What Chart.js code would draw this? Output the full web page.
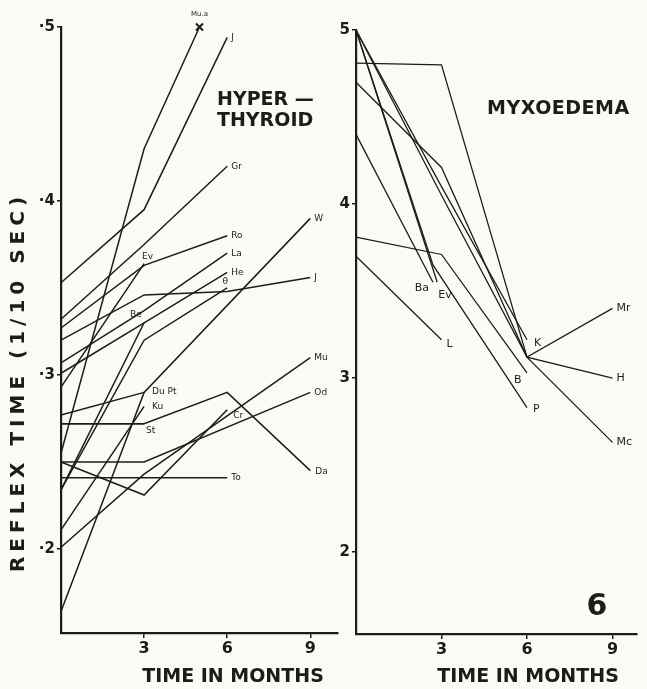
<!DOCTYPE html>
<html>
<head>
<meta charset="utf-8">
<script src="https://cdn.jsdelivr.net/npm/chart.js@4.4.1/dist/chart.umd.min.js"></script>
<style>
  html, body { margin:0; padding:0; background:#fbfbf6; }
  #wrap { position:relative; width:647px; height:689px; overflow:hidden; }
  #wrap canvas { position:absolute; top:0; }
  #c-hyper { left:0; }
  #c-myx { left:320px; }
</style>
</head>
<body>
<div id="wrap">
  <canvas id="c-hyper" width="345" height="689" style="width:345px;height:689px"></canvas>
  <canvas id="c-myx" width="327" height="689" style="width:327px;height:689px"></canvas>
</div>
<script>
// Reflex time (1/10 sec) against time in months, one line per patient

// ---- Hyperthyroid ----
const hyperNomes = ['Mu.a','J','Gr','Ro','La','He','θ','Ev','Be','Du Pt','Ku','St','Cr','To','W','J','Mu','Od','Da'];
const hyperMeses = [
  [0,3,5], [0,3,6], [0,3,6], [0,3,6], [0,3,6], [0,3,6], [0,3,6],
  [0,3], [0,3], [0,3], [0,3], [0,3],
  [0,3,6], [0,6], [0,3,9], [0,3,6,9], [0,3,9], [0,3,9], [0,3,6,9]
];
const hyperValores = [
  [0.255, 0.430, 0.500],        // Mu.a
  [0.353, 0.395, 0.494],        // J
  [0.332, 0.375, 0.420],        // Gr
  [0.327, 0.363, 0.380],        // Ro
  [0.307, 0.337, 0.370],        // La
  [0.301, 0.330, 0.359],        // He
  [0.234, 0.320, 0.350],        // θ
  [0.293, 0.364],               // Ev
  [0.234, 0.330],               // Be
  [0.277, 0.290],               // Du Pt
  [0.211, 0.282],               // Ku
  [0.272, 0.272],               // St
  [0.250, 0.231, 0.280],        // Cr
  [0.241, 0.241],               // To
  [0.164, 0.290, 0.390],        // W
  [0.320, 0.346, 0.348, 0.356], // J
  [0.201, 0.243, 0.310],        // Mu
  [0.250, 0.250, 0.290],        // Od
  [0.272, 0.272, 0.290, 0.245]  // Da
];
const hyperTicksY = [0.2, 0.3, 0.4, 0.5];

// ---- Myxoedema ----
const myxNomes = ['Mr','H','Mc','K','B','P','Ba','Ev','L'];
const myxMeses = [
  [0,3,6,9], [0,3,6,9], [0,3,6,9], [0,3,6], [0,3,6], [0,2.7,6], [0,2.7], [0,2.85], [0,3]
];
const myxValores = [
  [4.81, 4.80, 3.12, 3.40], // Mr
  [4.70, 4.21, 3.12, 3.00], // H
  [5.00, 4.05, 3.12, 2.63], // Mc
  [5.00, 4.10, 3.22],       // K
  [3.81, 3.71, 3.03],       // B
  [5.00, 3.65, 2.83],       // P
  [4.40, 3.55],             // Ba
  [5.00, 3.55],             // Ev
  [3.70, 3.22]              // L
];
const myxTicksY = [2, 3, 4, 5];

const ticksMeses = [3, 6, 9];

const COR = '#1c1c1c';
const FONTE = "'DejaVu Sans', sans-serif";

// posições dos rótulos (desvio em px a partir do ponto)
const hyperRotuloPos = {
  0: { dx:0, dy:-13, align:'center', size:7 },
  6: { idx:2, dx:-2, dy:-6, align:'center' },
  7: { dx:-2, dy:-7 },
  8: { dx:-14, dy:-8 },
  9: { dx:8, dy:-1 },
  10: { dx:8, dy:0 },
  11: { dx:2, dy:7 },
  12: { dx:6, dy:6 },
  18: { dx:5, dy:1 }
};
const myxRotuloPos = {
  3: { dx:7, dy:3 },
  4: { dx:-13, dy:7 },
  5: { dx:6, dy:2 },
  6: { dx:-4, dy:6, align:'right' },
  7: { dx:1, dy:13 },
  8: { dx:5, dy:4 }
};

const rotulosPlugin = {
  id: 'rotulos',
  afterDatasetsDraw(chart, args, opts) {
    const ctx = chart.ctx;
    ctx.save();
    ctx.fillStyle = COR;
    ctx.textBaseline = 'middle';
    opts.nomes.forEach((nome, i) => {
      const meta = chart.getDatasetMeta(i);
      const pos = opts.pos[i] || {};
      const idx = pos.idx ?? meta.data.length - 1;
      const p = meta.data[idx];
      ctx.font = `${pos.size || opts.size}px ${FONTE}`;
      ctx.textAlign = pos.align || 'left';
      ctx.fillText(nome, p.x + (pos.dx ?? 4), p.y + (pos.dy ?? 0));
    });
    // textos do painel
    (opts.textos || []).forEach(t => {
      ctx.save();
      ctx.font = t.font;
      ctx.textAlign = t.align || 'left';
      ctx.textBaseline = 'middle';
      if (t.espaco) ctx.letterSpacing = t.espaco + 'px';
      ctx.translate(t.x, t.y);
      if (t.rot) ctx.rotate(t.rot);
      ctx.fillText(t.txt, 0, 0);
      ctx.restore();
    });
    ctx.restore();
  }
};

function montaDatasets(meses, valores, extra) {
  return valores.map((vals, i) => Object.assign({
    data: vals.map((v, j) => ({ x: meses[i][j], y: v })),
    showLine: true,
    borderColor: COR,
    backgroundColor: COR,
    borderWidth: 1.5,
    pointRadius: 0,
    clip: false,
    tension: 0
  }, extra ? extra(i, vals) : {}));
}

function eixos(cfg) {
  const fTick = { family: FONTE, size: cfg.tickSize, weight: 'bold' };
  return {
    x: {
      type: 'linear', min: 0, max: cfg.xMax,
      afterBuildTicks: s => { s.ticks = ticksMeses.map(v => ({ value: v })); },
      afterFit: s => { s.height = cfg.xAltura; },
      ticks: { font: { family: FONTE, size: 16, weight: 'bold' }, color: COR, padding: 1, maxRotation: 0 },
      grid: { drawOnChartArea: false, drawTicks: true, tickLength: 5, color: COR, lineWidth: 1.5 },
      border: { display: true, color: COR, width: 2.2 }
    },
    y: {
      type: 'linear', min: cfg.yMin, max: cfg.yMax,
      afterBuildTicks: s => { s.ticks = cfg.ticksY.map(v => ({ value: v })); },
      afterFit: s => { s.width = cfg.yLargura; },
      ticks: { font: fTick, color: COR, padding: 2, callback: cfg.fmt },
      grid: { drawOnChartArea: false, drawTicks: true, tickLength: 4, color: COR, lineWidth: 1.5 },
      border: { display: true, color: COR, width: 2.2 }
    }
  };
}

Chart.defaults.animation = false;
Chart.defaults.font.family = FONTE;

new Chart(document.getElementById('c-hyper'), {
  type: 'scatter',
  data: {
    datasets: montaDatasets(hyperMeses, hyperValores, (i, vals) => i === 0 ? {
      pointRadius: vals.map((v, j) => j === vals.length - 1 ? 5 : 0),
      pointStyle: 'crossRot', pointBorderWidth: 2
    } : {})
  },
  options: {
    responsive: false,
    layout: { padding: { top: 27, right: 4, left: 0, bottom: 0 } },
    plugins: {
      legend: { display: false },
      tooltip: { enabled: false },
      rotulos: {
        nomes: hyperNomes, pos: hyperRotuloPos, size: 9,
        textos: [
          { txt: 'HYPER —', x: 217, y: 100, font: `bold 19px ${FONTE}` },
          { txt: 'THYROID', x: 217, y: 121, font: `bold 19px ${FONTE}` },
          { txt: 'REFLEX TIME (1/10 SEC)', x: 19, y: 382, font: `bold 20px ${FONTE}`, align: 'center', rot: -Math.PI / 2, espaco: 5 },
          { txt: 'TIME IN MONTHS', x: 233, y: 677, font: `bold 19px ${FONTE}`, align: 'center' }
        ]
      }
    },
    scales: eixos({
      xMax: 10, xAltura: 56, yMin: 0.1517, yMax: 0.5, yLargura: 61, tickSize: 15,
      ticksY: hyperTicksY, fmt: v => '·' + Math.round(v * 10)
    })
  },
  plugins: [rotulosPlugin]
});

new Chart(document.getElementById('c-myx'), {
  type: 'scatter',
  data: { datasets: montaDatasets(myxMeses, myxValores, () => ({ borderWidth: 1.3 })) },
  options: {
    responsive: false,
    layout: { padding: { top: 30, right: 10, left: 0, bottom: 0 } },
    plugins: {
      legend: { display: false },
      tooltip: { enabled: false },
      rotulos: {
        nomes: myxNomes, pos: myxRotuloPos, size: 11,
        textos: [
          { txt: 'MYXOEDEMA', x: 167, y: 109, font: `bold 19px ${FONTE}`, espaco: 0.5 },
          { txt: '6', x: 277, y: 607, font: `bold 30px ${FONTE}`, align: 'center' },
          { txt: 'TIME IN MONTHS', x: 208, y: 677, font: `bold 19px ${FONTE}`, align: 'center' }
        ]
      }
    },
    scales: eixos({
      xMax: 9.86, xAltura: 55, yMin: 1.529, yMax: 5, yLargura: 36, tickSize: 15,
      ticksY: myxTicksY, fmt: v => String(v)
    })
  },
  plugins: [rotulosPlugin]
});
</script>
</body>
</html>
